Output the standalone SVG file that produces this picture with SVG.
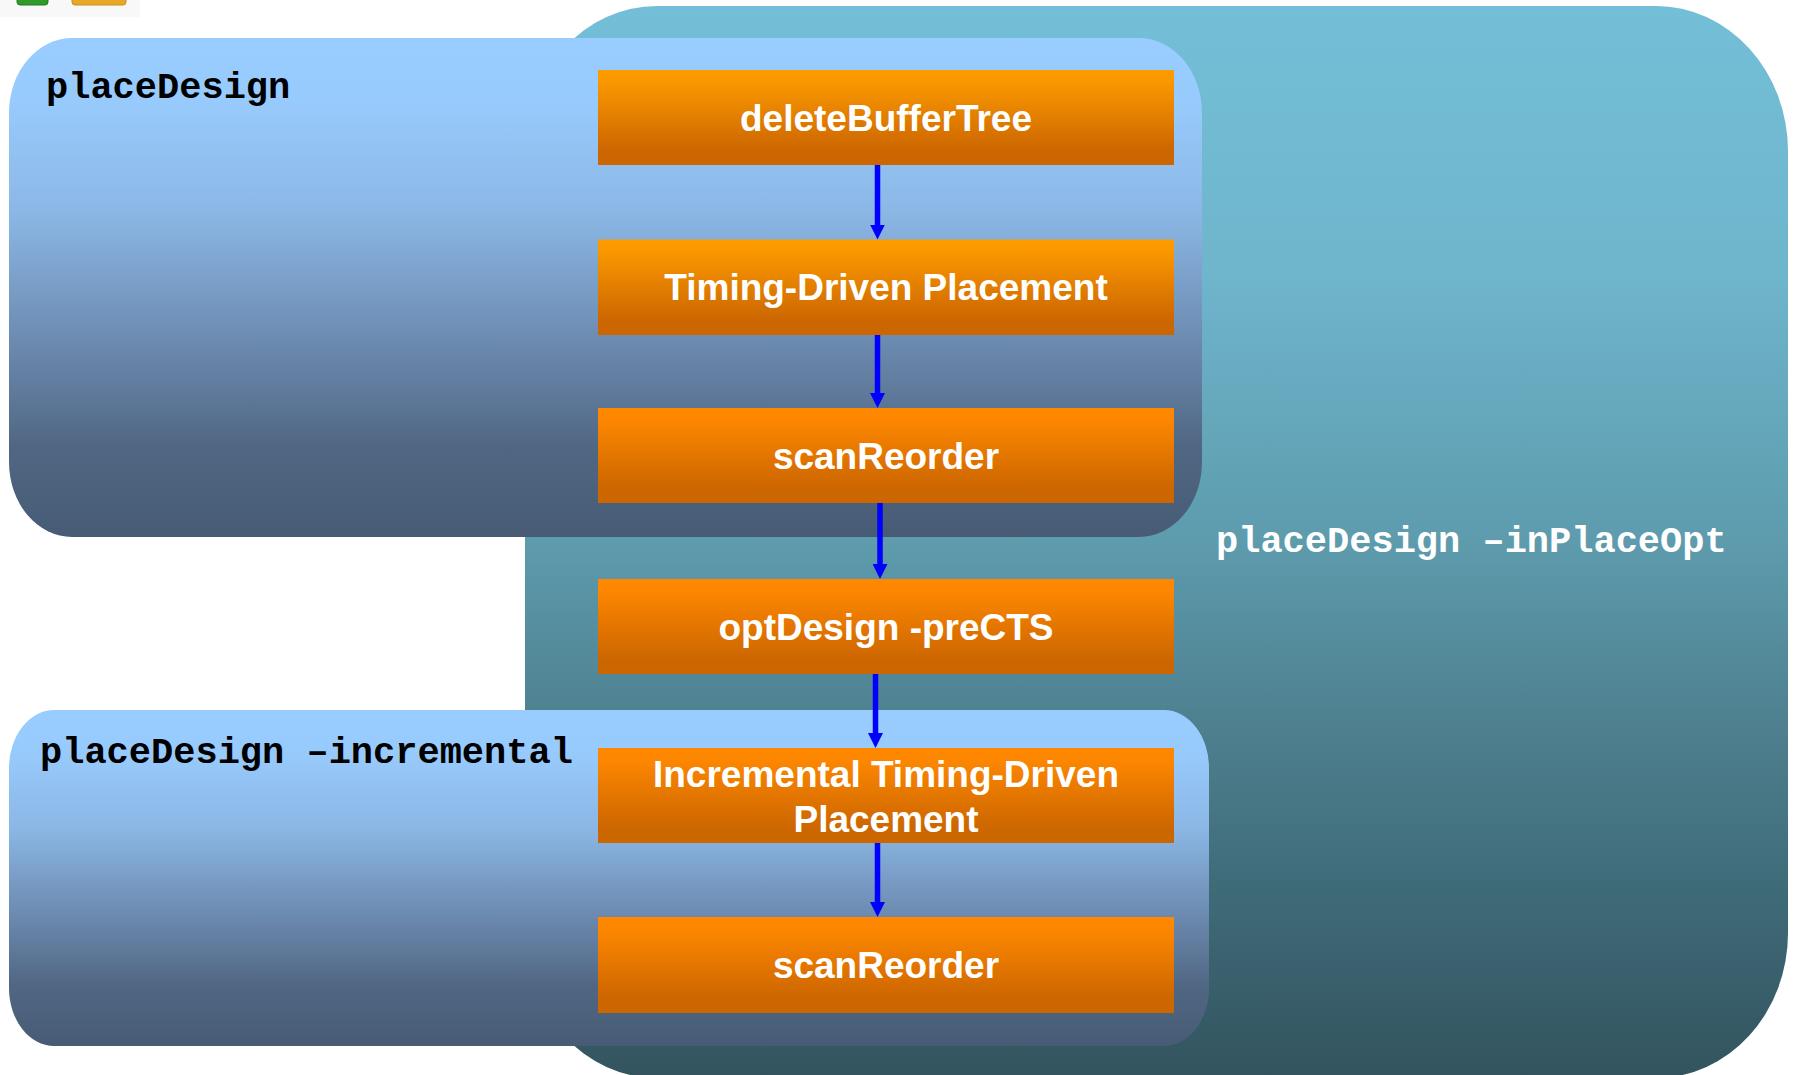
<svg xmlns="http://www.w3.org/2000/svg" width="1794" height="1075" viewBox="0 0 1794 1075">
  <defs>
    <linearGradient id="gTeal" gradientUnits="userSpaceOnUse" x1="0" y1="6" x2="0" y2="1078">
      <stop offset="0" stop-color="#73BFD7"/>
      <stop offset="0.25" stop-color="#6FB5CC"/>
      <stop offset="0.5" stop-color="#5D9BAD"/>
      <stop offset="0.67" stop-color="#4E808F"/>
      <stop offset="0.83" stop-color="#3E6A77"/>
      <stop offset="1" stop-color="#33545E"/>
    </linearGradient>
    <linearGradient id="gLight" x1="0" y1="0" x2="0" y2="1">
      <stop offset="0" stop-color="#99CCFF"/>
      <stop offset="0.12" stop-color="#98CBFD"/>
      <stop offset="0.35" stop-color="#8BB7E5"/>
      <stop offset="0.6" stop-color="#6D8CB2"/>
      <stop offset="0.82" stop-color="#506783"/>
      <stop offset="1" stop-color="#475B75"/>
    </linearGradient>
    <linearGradient id="gOrangeA" x1="0" y1="0" x2="0" y2="1">
      <stop offset="0" stop-color="#FD9B00"/>
      <stop offset="0.12" stop-color="#FA9800"/>
      <stop offset="0.85" stop-color="#CC6600"/>
      <stop offset="1" stop-color="#CC6600"/>
    </linearGradient>
    <linearGradient id="gOrangeB" x1="0" y1="0" x2="0" y2="1">
      <stop offset="0" stop-color="#FF8800"/>
      <stop offset="0.12" stop-color="#FD8700"/>
      <stop offset="0.85" stop-color="#CC6600"/>
      <stop offset="1" stop-color="#CC6600"/>
    </linearGradient>
    <marker id="arrow" viewBox="0 0 15 15" markerWidth="15" markerHeight="15" markerUnits="userSpaceOnUse" refX="1" refY="7.5" orient="auto">
      <path d="M0,0 L15,7.5 L0,15 z" fill="#0000FF"/>
    </marker>
    <style>
      .step { stroke: none; }
      .steptxt { font-family: "Liberation Sans", Arial, Helvetica, sans-serif; font-weight: bold; font-size: 37px; fill: #FFFFFF; text-anchor: middle; }
      .mono { font-family: "Liberation Mono", "Courier New", monospace; font-weight: bold; font-size: 37px; }
      .conn { stroke: #0000FF; stroke-width: 5.5; fill: none; marker-end: url(#arrow); }
    </style>
  </defs>

  <rect x="0" y="0" width="1794" height="1075" fill="#FFFFFF"/>

  <g id="toolbar-icons">
    <rect x="0" y="0" width="140" height="17" fill="#F8F8F8"/>
    <rect x="17" y="-10" width="31" height="15" rx="3" fill="#2E9A2A" stroke="#237A20" stroke-width="1"/>
    <rect x="72" y="-10" width="54" height="15" rx="3" fill="#E8A827" stroke="#C98F1A" stroke-width="1"/>
  </g>

  <g id="group-inPlaceOpt">
    <rect x="525" y="6" width="1263" height="1072" rx="132" ry="145" fill="url(#gTeal)"/>
    <text class="mono" x="1216" y="552" fill="#FFFFFF">placeDesign –inPlaceOpt</text>
  </g>

  <g id="group-placeDesign">
    <rect x="9" y="38" width="1193" height="499" rx="63" ry="75" fill="url(#gLight)"/>
    <text class="mono" x="46" y="98" fill="#000000">placeDesign</text>
  </g>

  <g id="group-incremental">
    <rect x="9" y="710" width="1200" height="336" rx="45" ry="58" fill="url(#gLight)"/>
    <text class="mono" x="40" y="763" fill="#000000">placeDesign –incremental</text>
  </g>

  <g id="connectors">
    <line class="conn" x1="877.5" y1="165" x2="877.5" y2="225.5"/>
    <line class="conn" x1="877.5" y1="335" x2="877.5" y2="394"/>
    <line class="conn" x1="880" y1="503" x2="880" y2="565"/>
    <line class="conn" x1="875.5" y1="674" x2="875.5" y2="734"/>
    <line class="conn" x1="877.5" y1="843" x2="877.5" y2="903"/>
  </g>

  <g id="node-deleteBufferTree">
    <rect class="step" x="598" y="70" width="576" height="95" fill="url(#gOrangeA)"/>
    <text class="steptxt" x="886" y="131">deleteBufferTree</text>
  </g>
  <g id="node-timingDrivenPlacement">
    <rect class="step" x="598" y="239.5" width="576" height="95.5" fill="url(#gOrangeA)"/>
    <text class="steptxt" x="886" y="300">Timing-Driven Placement</text>
  </g>
  <g id="node-scanReorder1">
    <rect class="step" x="598" y="408" width="576" height="95" fill="url(#gOrangeB)"/>
    <text class="steptxt" x="886" y="469">scanReorder</text>
  </g>
  <g id="node-optDesign">
    <rect class="step" x="598" y="579" width="576" height="95" fill="url(#gOrangeB)"/>
    <text class="steptxt" x="886" y="640">optDesign -preCTS</text>
  </g>
  <g id="node-incrementalTDP">
    <rect class="step" x="598" y="748" width="576" height="95" fill="url(#gOrangeB)"/>
    <text class="steptxt" x="886" y="787">Incremental Timing-Driven</text>
    <text class="steptxt" x="886" y="832">Placement</text>
  </g>
  <g id="node-scanReorder2">
    <rect class="step" x="598" y="917" width="576" height="96" fill="url(#gOrangeB)"/>
    <text class="steptxt" x="886" y="978">scanReorder</text>
  </g>
</svg>
